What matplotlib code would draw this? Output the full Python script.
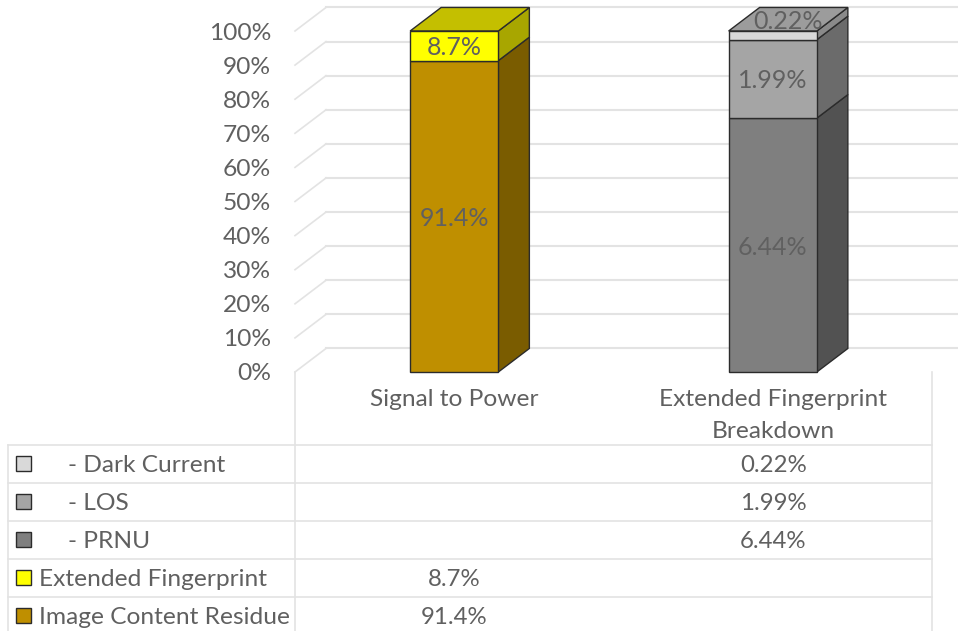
"""Stacked 3D-look columns with a data table underneath."""

import matplotlib
matplotlib.use('Agg')
import matplotlib.lines
import matplotlib.patches
import matplotlib.pyplot as plt

categories = ['Signal to Power', 'Extended Fingerprint\nBreakdown']
series_names = ['Image Content Residue', 'Extended Fingerprint',
                '     - PRNU', '     - LOS', '     - Dark Current']
image_residue = [91.4, None]
extended_fp = [8.7, None]
prnu = [None, 6.44]
los = [None, 1.99]
dark_current = [None, 0.22]
series_values = [image_residue, extended_fp, prnu, los, dark_current]
y_ticks = list(range(0, 101, 10))

front_colors = ['#BF8F00', '#FFFF00', '#7F7F7F', '#A5A5A5', '#D9D9D9']
side_colors = ['#7A5C00', '#A8A600', '#525252', '#6B6B6B', '#8A8A8A']
top_colors = ['#A07800', '#C4BF00', '#6A6A6A', '#8E8E8E', '#9C9C9C']
label_formats = ['{:.1f}%', '{:.1f}%', '{:.2f}%', '{:.2f}%', '{:.2f}%']

TEXT = '#606060'
GRID = '#E3E3E3'
EDGE = '#2B2B2B'
FONT = 'Lato'
W, H = 958, 631
BAR_WIDTH = 0.277
DEPTH_X = 31 / 318.5  # in category units
DEPTH_Y = 6.9  # in percent units
TEXT_DROP = 2 / 3.41  # labels sit about 2px lower than their centre


def px(size):
    return size * 0.72


figure = plt.figure(figsize=(W / 100, H / 100), dpi=100)
layout = figure.add_axes([0, 0, 1, 1])
layout.set_xlim(0, W)
layout.set_ylim(H, 0)
layout.axis('off')

axes = figure.add_axes([295 / W, 1 - 372 / H, 637 / W, 341 / H])
axes.set_xlim(-0.5, 1.5)
axes.set_ylim(0, 100)
axes.axis('off')
axes.patch.set_alpha(0)

# back wall and left wall lines
for tick in y_ticks:
    axes.plot([-0.5, -0.5 + DEPTH_X], [tick, tick + DEPTH_Y], c=GRID, lw=1.2,
              clip_on=False, zorder=1)
    axes.plot([-0.5 + DEPTH_X, 1.6], [tick + DEPTH_Y] * 2, c=GRID, lw=1.5,
              clip_on=False, zorder=1)
    axes.text(-0.5 - 24 / 318.5, tick - TEXT_DROP, f'{tick}%', ha='right',
              va='center', color=TEXT, family=FONT, fontsize=px(24.5),
              clip_on=False)

for col, category in enumerate(categories):
    total = sum(v[col] for v in series_values if v[col] is not None)
    left, right = col - BAR_WIDTH / 2, col + BAR_WIDTH / 2
    bottom = 0.0
    drawn = [i for i, v in enumerate(series_values) if v[col] is not None]
    for i in drawn:
        value = series_values[i][col]
        top = bottom + value / total * 100
        axes.add_patch(matplotlib.patches.Polygon(
            [(right, bottom), (right + DEPTH_X, bottom + DEPTH_Y),
             (right + DEPTH_X, top + DEPTH_Y), (right, top)],
            fc=side_colors[i], ec=EDGE, lw=1, clip_on=False, zorder=3))
        axes.add_patch(matplotlib.patches.Rectangle(
            (left, bottom), right - left, top - bottom,
            fc=front_colors[i], ec=EDGE, lw=1, clip_on=False, zorder=4))
        if i == drawn[-1]:
            axes.add_patch(matplotlib.patches.Polygon(
                [(left, top), (left + DEPTH_X, top + DEPTH_Y),
                 (right + DEPTH_X, top + DEPTH_Y), (right, top)],
                fc=top_colors[i], ec=EDGE, lw=1, clip_on=False, zorder=3))
        # the thin top slice carries its label up on the lid
        small = top - bottom < 4
        label_x = col + DEPTH_X / 2 if small else col
        label_y = top + DEPTH_Y / 2 if small else (bottom + top) / 2
        axes.text(label_x, label_y - TEXT_DROP, label_formats[i].format(value),
                  ha='center', va='center', color=TEXT, family=FONT,
                  fontsize=px(25), zorder=6, clip_on=False)
        bottom = top

    layout.text(454.5 + col * 319, 399, category.split('\n')[0], ha='center',
                va='center', color=TEXT, family=FONT, fontsize=px(24.5))
    if '\n' in category:
        layout.text(454.5 + col * 319, 431, category.split('\n')[1],
                    ha='center', va='center', color=TEXT, family=FONT,
                    fontsize=px(24.5))

# data table
rows_y = [444.5, 482.5, 520.5, 558.5, 596.5]
for y in rows_y:
    layout.plot([8.5, 932], [y, y], c=GRID, lw=1.2)
layout.plot([8.5, 8.5], [444.5, 631], c=GRID, lw=1.2)
layout.plot([295, 295], [372, 631], c=GRID, lw=1.2)
layout.plot([932, 932], [372, 631], c=GRID, lw=1.2)

for row, i in enumerate(reversed(range(len(series_names)))):
    center = rows_y[row] + 19
    layout.add_patch(matplotlib.patches.Rectangle(
        (16.5, center - 7.5), 15, 15, fc=front_colors[i], ec=EDGE, lw=1))
    name = series_names[i]
    indented = name.startswith(' ')
    layout.text(68 if indented else 39, center + 2, name.strip(), ha='left',
                va='center', color=TEXT, family=FONT, fontsize=px(24.5))
    for col in range(len(categories)):
        value = series_values[i][col]
        if value is not None:
            layout.text(454.5 + col * 319, center + 2,
                        label_formats[i].format(value), ha='center',
                        va='center', color=TEXT, family=FONT, fontsize=px(24))

figure.savefig('out.png', dpi=100)
